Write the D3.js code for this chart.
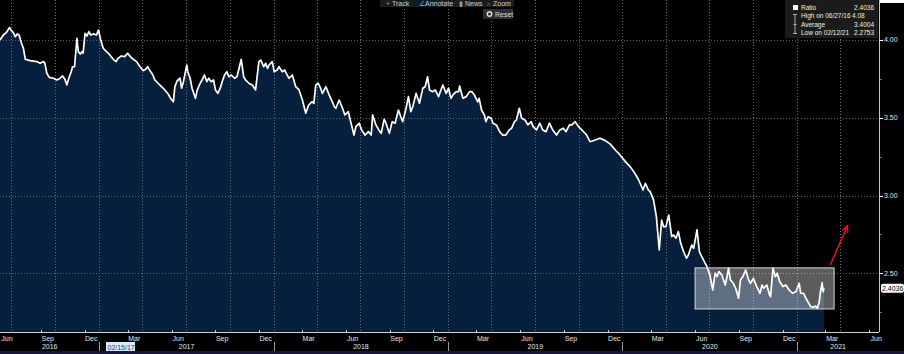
<!DOCTYPE html>
<html>
<head>
<meta charset="utf-8">
<script src="https://cdn.jsdelivr.net/npm/d3@7"></script>
<style>
  html, body { margin: 0; padding: 0; background: #000; }
  svg { display: block; font-family: "Liberation Sans", Arial, sans-serif; }
</style>
</head>
<body>
<div id="chart"></div>
<script>
//data
const dates = [
  "2016-06-07","2016-06-14","2016-06-20","2016-06-27","2016-06-30","2016-07-05","2016-07-09","2016-07-13","2016-07-17","2016-07-21",
  "2016-07-26","2016-07-30","2016-08-09","2016-08-23","2016-08-30","2016-09-06","2016-09-09","2016-09-13","2016-09-18","2016-09-27",
  "2016-10-04","2016-10-11","2016-10-16","2016-10-21","2016-10-25","2016-10-29","2016-11-03","2016-11-06","2016-11-10","2016-11-13",
  "2016-11-15","2016-11-18","2016-11-22","2016-11-26","2016-11-28","2016-12-02","2016-12-06","2016-12-10","2016-12-14","2016-12-19",
  "2016-12-26","2016-12-30","2017-01-04","2017-01-09","2017-01-16","2017-01-23","2017-01-30","2017-02-05","2017-02-09","2017-02-16",
  "2017-02-23","2017-03-01","2017-03-07","2017-03-13","2017-03-20","2017-03-27","2017-04-03","2017-04-08","2017-04-12","2017-04-17",
  "2017-04-23","2017-04-27","2017-05-04","2017-05-11","2017-05-18","2017-05-25","2017-05-30","2017-06-05","2017-06-08","2017-06-13",
  "2017-06-19","2017-06-22","2017-06-26","2017-07-03","2017-07-05","2017-07-10","2017-07-14","2017-07-21","2017-07-25","2017-07-31",
  "2017-08-04","2017-08-09","2017-08-14","2017-08-18","2017-08-23","2017-08-28","2017-09-01","2017-09-06","2017-09-11","2017-09-15",
  "2017-09-20","2017-09-25","2017-09-29","2017-10-04","2017-10-11","2017-10-16","2017-10-23","2017-10-25","2017-10-30","2017-11-03",
  "2017-11-10","2017-11-17","2017-11-24","2017-11-28","2017-12-01","2017-12-05","2017-12-11","2017-12-15","2017-12-19","2017-12-22",
  "2017-12-29","2018-01-02","2018-01-08","2018-01-12","2018-01-19","2018-01-24","2018-01-29","2018-02-02","2018-02-09","2018-02-16",
  "2018-02-23","2018-03-02","2018-03-09","2018-03-15","2018-03-22","2018-03-26","2018-03-30","2018-04-04","2018-04-09","2018-04-13",
  "2018-04-20","2018-04-27","2018-05-02","2018-05-08","2018-05-11","2018-05-18","2018-05-25","2018-05-30","2018-06-06","2018-06-11",
  "2018-06-18","2018-06-22","2018-06-29","2018-07-04","2018-07-11","2018-07-18","2018-07-24","2018-07-27","2018-08-03","2018-08-09",
  "2018-08-14","2018-08-20","2018-08-24","2018-08-31","2018-09-06","2018-09-12","2018-09-19","2018-09-24","2018-09-28","2018-10-05",
  "2018-10-10","2018-10-15","2018-10-19","2018-10-26","2018-11-02","2018-11-09","2018-11-14","2018-11-19","2018-11-23","2018-11-30",
  "2018-12-05","2018-12-12","2018-12-17","2018-12-21","2018-12-28","2019-01-02","2019-01-07","2019-01-11","2019-01-18","2019-01-23",
  "2019-01-25","2019-02-01","2019-02-08","2019-02-15","2019-02-20","2019-02-25","2019-03-04","2019-03-07","2019-03-12","2019-03-18",
  "2019-03-21","2019-03-26","2019-04-01","2019-04-05","2019-04-12","2019-04-19","2019-04-25","2019-05-02","2019-05-09","2019-05-14",
  "2019-05-20","2019-05-24","2019-05-30","2019-06-04","2019-06-11","2019-06-17","2019-06-24","2019-06-28","2019-07-05","2019-07-12",
  "2019-07-18","2019-07-25","2019-08-01","2019-08-08","2019-08-16","2019-08-23","2019-08-30","2019-09-05","2019-09-12","2019-09-17",
  "2019-09-24","2019-10-01","2019-10-08","2019-10-18","2019-10-25","2019-11-05","2019-11-15","2019-11-26","2019-12-06","2019-12-17",
  "2019-12-27","2020-01-07","2020-01-17","2020-01-27","2020-02-04","2020-02-13","2020-02-18","2020-02-24","2020-02-28","2020-03-06",
  "2020-03-12","2020-03-18","2020-03-23","2020-03-27","2020-04-01","2020-04-07","2020-04-13","2020-04-17","2020-04-22","2020-04-27",
  "2020-05-02","2020-05-08","2020-05-14","2020-05-18","2020-05-25","2020-05-29","2020-06-05","2020-06-10","2020-06-15","2020-06-22",
  "2020-06-26","2020-07-02","2020-07-08","2020-07-13","2020-07-17","2020-07-21","2020-07-27","2020-08-03","2020-08-07","2020-08-10",
  "2020-08-14","2020-08-20","2020-08-25","2020-08-31","2020-09-04","2020-09-09","2020-09-15","2020-09-21","2020-09-25","2020-10-01",
  "2020-10-08","2020-10-15","2020-10-19","2020-10-23","2020-10-29","2020-11-04","2020-11-06","2020-11-11","2020-11-16","2020-11-20",
  "2020-11-25","2020-12-02","2020-12-08","2020-12-15","2020-12-22","2020-12-29","2021-01-05","2021-01-08","2021-01-14","2021-01-19",
  "2021-01-25","2021-01-29","2021-02-03","2021-02-08","2021-02-12","2021-02-16","2021-02-18","2021-02-22","2021-02-24","2021-02-26"
];
const ratio = [
  4.000,4.032,4.047,4.080,4.064,4.047,4.021,4.039,4.032,3.989,
  3.947,3.876,3.867,3.861,3.850,3.861,3.850,3.786,3.760,3.754,
  3.743,3.754,3.769,3.747,3.711,3.754,3.796,3.828,3.828,3.936,
  4.011,3.925,3.910,3.925,3.915,4.043,4.026,4.053,4.032,4.039,
  4.032,4.064,4.000,3.947,3.925,3.904,3.876,3.861,3.882,3.897,
  3.893,3.915,3.893,3.876,3.861,3.828,3.803,3.812,3.828,3.803,
  3.775,3.743,3.722,3.700,3.679,3.653,3.625,3.603,3.700,3.738,
  3.754,3.690,3.732,3.839,3.796,3.754,3.690,3.625,3.679,3.722,
  3.743,3.775,3.732,3.754,3.732,3.743,3.679,3.657,3.690,3.732,
  3.775,3.796,3.764,3.775,3.754,3.764,3.850,3.876,3.764,3.743,
  3.722,3.711,3.679,3.786,3.861,3.871,3.828,3.850,3.818,3.839,
  3.861,3.796,3.807,3.828,3.796,3.807,3.775,3.754,3.775,3.700,
  3.679,3.614,3.529,3.582,3.603,3.593,3.711,3.722,3.690,3.657,
  3.700,3.647,3.614,3.571,3.561,3.614,3.561,3.518,3.539,3.475,
  3.389,3.443,3.465,3.422,3.389,3.411,3.389,3.518,3.454,3.422,
  3.400,3.490,3.465,3.400,3.475,3.465,3.550,3.507,3.475,3.561,
  3.636,3.539,3.571,3.657,3.593,3.690,3.700,3.764,3.679,3.668,
  3.679,3.636,3.679,3.711,3.657,3.690,3.625,3.647,3.668,3.668,
  3.704,3.625,3.636,3.668,3.668,3.647,3.603,3.625,3.550,3.518,
  3.475,3.507,3.497,3.465,3.454,3.411,3.389,3.389,3.422,3.433,
  3.475,3.486,3.561,3.497,3.486,3.454,3.475,3.443,3.422,3.465,
  3.422,3.411,3.465,3.422,3.389,3.422,3.433,3.411,3.454,3.454,
  3.475,3.443,3.422,3.389,3.346,3.357,3.368,3.353,3.332,3.293,
  3.261,3.218,3.186,3.143,3.100,3.036,3.079,3.036,3.025,2.972,
  2.864,2.650,2.843,2.800,2.800,2.875,2.736,2.747,2.726,2.768,
  2.693,2.639,2.597,2.618,2.682,2.661,2.779,2.639,2.607,2.565,
  2.543,2.490,2.393,2.501,2.479,2.511,2.490,2.425,2.479,2.533,
  2.458,2.436,2.404,2.340,2.458,2.479,2.522,2.458,2.436,2.468,
  2.415,2.372,2.425,2.404,2.425,2.361,2.350,2.533,2.479,2.501,
  2.447,2.415,2.425,2.393,2.372,2.382,2.436,2.372,2.372,2.340,
  2.308,2.286,2.282,2.290,2.275,2.318,2.372,2.440,2.382,2.4036
];

const xDomain = ["2016-06-07", "2021-06-21"];
const yDomain = [2.1229, 4.2571];
const yTicks = [2.5, 3.0, 3.5, 4.0];
const yMinorTicks = [2.25, 2.75, 3.25, 3.75];
const labelMonths = ["Mar", "Jun", "Sep", "Dec"];
const years = ["2016", "2017", "2018", "2019", "2020", "2021"];

const legendNames = ["Ratio", "High on 06/27/16", "Average", "Low on 02/12/21"];
const legendValues = ["2.4036", "4.08", "3.4004", "2.2753"];
const lastLabel = "2.4036";
const cursorDate = "02/15/17";
const toolbarItems = ["Track", "Annotate", "News", "Zoom"];

//annotations
const boxDates = ["2020-06-01", "2021-03-19"];
const boxValues = [2.271, 2.535];
const arrowDates = ["2021-03-11", "2021-04-16"];
const arrowValues = [2.554, 2.805];

//size
const width = 904, height = 354;
const plotW = 879, plotH = 332;

const parse = d3.utcParse("%Y-%m-%d");
const series = dates.map((d, i) => ({ date: parse(d), value: ratio[i] }));

//scale
const xScale = d3.scaleUtc().domain(xDomain.map(parse)).range([0, plotW]);
const yScale = d3.scaleLinear().domain(yDomain).range([plotH, 0]);

//create element
const svg = d3.select("#chart").append("svg")
  .attr("width", width)
  .attr("height", height);

svg.append("rect").attr("width", width).attr("height", height).attr("fill", "#000");

//area
svg.append("path")
  .datum(series)
  .attr("fill", "#061f3d")
  .attr("d", d3.area().x(d => xScale(d.date)).y0(plotH).y1(d => yScale(d.value)));

//grid
const months = d3.utcMonth.range(d3.utcMonth.floor(xScale.domain()[0]), xScale.domain()[1]);
const quarterStarts = months.filter(d => d.getUTCMonth() % 3 === 0);
svg.append("g").selectAll("line").data(quarterStarts).join("line")
  .attr("x1", d => Math.round(xScale(d)) + 0.5).attr("x2", d => Math.round(xScale(d)) + 0.5)
  .attr("y1", 0).attr("y2", plotH)
  .attr("stroke", "#6a6f78").attr("stroke-dasharray", "1,2");

svg.append("g").selectAll("line").data(yTicks).join("line")
  .attr("x1", 0).attr("x2", plotW)
  .attr("y1", d => Math.round(yScale(d)) + 0.5).attr("y2", d => Math.round(yScale(d)) + 0.5)
  .attr("stroke", "#5c6068").attr("stroke-dasharray", "1,2");

//line
svg.append("path")
  .datum(series)
  .attr("fill", "none")
  .attr("stroke", "#fff")
  .attr("stroke-width", 1.7)
  .attr("stroke-linejoin", "round")
  .attr("d", d3.line().x(d => xScale(d.date)).y(d => yScale(d.value)));

//box annotation
const bx0 = xScale(parse(boxDates[0])), bx1 = xScale(parse(boxDates[1]));
const by0 = yScale(boxValues[1]), by1 = yScale(boxValues[0]);
svg.append("rect")
  .attr("x", bx0).attr("y", by0)
  .attr("width", bx1 - bx0).attr("height", by1 - by0)
  .attr("fill", "#fff").attr("fill-opacity", 0.36)
  .attr("stroke", "#d8d8d8").attr("stroke-width", 1);

//arrow annotation
const ax0 = xScale(parse(arrowDates[0])), ay0 = yScale(arrowValues[0]);
const ax1 = xScale(parse(arrowDates[1])), ay1 = yScale(arrowValues[1]);
const ang = Math.atan2(ay1 - ay0, ax1 - ax0);
svg.append("line")
  .attr("x1", ax0).attr("y1", ay0).attr("x2", ax1).attr("y2", ay1)
  .attr("stroke", "#e8141a").attr("stroke-width", 1.5);
svg.append("path")
  .attr("d", `M${ax1 - 7 * Math.cos(ang - 0.45)},${ay1 - 7 * Math.sin(ang - 0.45)}L${ax1},${ay1}L${ax1 - 7 * Math.cos(ang + 0.45)},${ay1 - 7 * Math.sin(ang + 0.45)}`)
  .attr("fill", "none").attr("stroke", "#e8141a").attr("stroke-width", 1.5);

//x-axis
svg.append("line")
  .attr("x1", 0).attr("x2", plotW).attr("y1", plotH + 0.5).attr("y2", plotH + 0.5)
  .attr("stroke", "#d0d0d0");

const labelStarts = months.filter(d => d.getUTCMonth() % 3 === 2);
const xAxis = svg.append("g").attr("class", "x-axis");
xAxis.selectAll("line.tick").data(labelStarts.filter(d => xScale(d) > 0)).join("line")
  .attr("class", "tick")
  .attr("x1", d => Math.round(xScale(d)) + 0.5).attr("x2", d => Math.round(xScale(d)) + 0.5)
  .attr("y1", plotH - 2).attr("y2", plotH)
  .attr("stroke", "#d0d0d0");
xAxis.selectAll("text.month").data(labelStarts).join("text")
  .attr("class", "month")
  .attr("x", d => Math.max(7, xScale(d3.utcDay.offset(d, 14))))
  .attr("y", plotH + 9)
  .attr("text-anchor", "middle")
  .attr("fill", "#e6e6ea").attr("font-size", 7)
  .text(d => labelMonths[Math.floor(d.getUTCMonth() / 3)]);

const yearStarts = years.map(y => parse(y + "-01-01"));
xAxis.selectAll("line.year").data(yearStarts.slice(1)).join("line")
  .attr("class", "year")
  .attr("x1", d => Math.round(xScale(d)) + 0.5).attr("x2", d => Math.round(xScale(d)) + 0.5)
  .attr("y1", plotH + 10).attr("y2", plotH + 19)
  .attr("stroke", "#9a9a9a");
xAxis.selectAll("text.year").data(years).join("text")
  .attr("class", "year")
  .attr("x", (d, i) => {
    const a = Math.max(0, xScale(yearStarts[i]));
    const b = Math.min(plotW, xScale(parse((+d + 1) + "-01-01")));
    return (a + b) / 2;
  })
  .attr("y", plotH + 17)
  .attr("text-anchor", "middle")
  .attr("fill", "#e6e6ea").attr("font-size", 7)
  .text(d => d);

//cursor date
svg.append("rect").attr("x", 106).attr("y", plotH + 10).attr("width", 29).attr("height", 9)
  .attr("fill", "#dce9f7");
svg.append("text").attr("x", 107.5).attr("y", plotH + 17.5)
  .attr("fill", "#1b3d8f").attr("font-size", 7).text(cursorDate);

svg.append("rect").attr("x", 0).attr("y", 351).attr("width", width).attr("height", 3)
  .attr("fill", "#17173a");

//y-axis
svg.append("line")
  .attr("x1", plotW + 0.5).attr("x2", plotW + 0.5).attr("y1", 0).attr("y2", plotH)
  .attr("stroke", "#c8c8c8");
const yAxis = svg.append("g").attr("class", "y-axis");
yAxis.selectAll("line.minor").data(yMinorTicks).join("line")
  .attr("class", "minor")
  .attr("x1", plotW + 1).attr("x2", plotW + 3)
  .attr("y1", d => Math.round(yScale(d)) + 0.5).attr("y2", d => Math.round(yScale(d)) + 0.5)
  .attr("stroke", "#777");
yAxis.selectAll("line.major").data(yTicks).join("line")
  .attr("class", "major")
  .attr("x1", plotW + 1).attr("x2", plotW + 4)
  .attr("y1", d => Math.round(yScale(d)) + 0.5).attr("y2", d => Math.round(yScale(d)) + 0.5)
  .attr("stroke", "#fff");
yAxis.selectAll("text").data(yTicks).join("text")
  .attr("x", plotW + 5)
  .attr("y", d => yScale(d) + 2.5)
  .attr("fill", "#dfe6f2").attr("font-size", 7)
  .text(d => d.toFixed(2));

//last value label
const lastY = yScale(ratio[ratio.length - 1]);
svg.append("rect").attr("x", plotW + 2).attr("y", lastY - 4.5).attr("width", 23).attr("height", 9)
  .attr("rx", 2).attr("fill", "#fff");
svg.append("text").attr("x", plotW + 3).attr("y", lastY + 2.5)
  .attr("fill", "#000").attr("font-size", 7).text(lastLabel);
svg.append("rect").attr("x", plotW + 1).attr("y", -5).attr("width", 24).attr("height", 8)
  .attr("fill", "#fff");

//legend
const legend = svg.append("g").attr("class", "legend");
legend.append("rect").attr("x", 785).attr("y", 0).attr("width", 93).attr("height", 38)
  .attr("fill", "#1b1b1b");
legend.append("rect").attr("x", 793).attr("y", 5).attr("width", 5).attr("height", 5)
  .attr("fill", "#fff");
legend.append("path")
  .attr("d", "M793,14.5H797M795,14.5V33.5M793,33.5H797M793.5,24.5H796.5")
  .attr("stroke", "#aaa").attr("fill", "none");
legend.selectAll("text.name").data(legendNames).join("text")
  .attr("class", "name")
  .attr("x", 801).attr("y", (d, i) => 10 + i * 8.4)
  .attr("fill", "#f2f0dc").attr("font-size", 6.5)
  .text(d => d);
legend.selectAll("text.value").data(legendValues).join("text")
  .attr("class", "value")
  .attr("x", (d, i) => i === 1 ? 852 : 874).attr("y", (d, i) => 10 + i * 8.4)
  .attr("text-anchor", (d, i) => i === 1 ? "start" : "end")
  .attr("fill", "#f2f0dc").attr("font-size", 6.5)
  .text(d => d);

//toolbar
const toolbar = svg.append("g").attr("class", "toolbar");
toolbar.append("rect").attr("x", 380).attr("y", 0).attr("width", 134).attr("height", 7).attr("fill", "#1c1c1c");
toolbar.append("rect").attr("x", 413).attr("y", 0).attr("width", 40).attr("height", 7).attr("fill", "#0d1c2e");
const toolX = [392, 425, 465, 493];
const toolIcons = ["+", "\u2220", "\u25AE", "\u2315"];
toolbar.selectAll("text.icon").data(toolIcons).join("text")
  .attr("class", "icon")
  .attr("x", (d, i) => toolX[i] - 6).attr("y", 5.5)
  .attr("fill", "#9a9a9a").attr("font-size", 6.5)
  .text(d => d);
toolbar.selectAll("text.item").data(toolbarItems).join("text")
  .attr("class", "item")
  .attr("x", (d, i) => toolX[i]).attr("y", 5.5)
  .attr("fill", "#c9d0c6").attr("font-size", 7)
  .text(d => d);
toolbar.append("rect").attr("x", 483).attr("y", 9).attr("width", 30).attr("height", 10).attr("fill", "#2e2e2e");
toolbar.append("circle").attr("cx", 489.5).attr("cy", 14).attr("r", 2.2)
  .attr("fill", "none").attr("stroke", "#ddd").attr("stroke-width", 1.4);
toolbar.append("text").attr("x", 495).attr("y", 16.5)
  .attr("fill", "#ddd").attr("font-size", 7).text("Reset");
</script>
</body>
</html>
